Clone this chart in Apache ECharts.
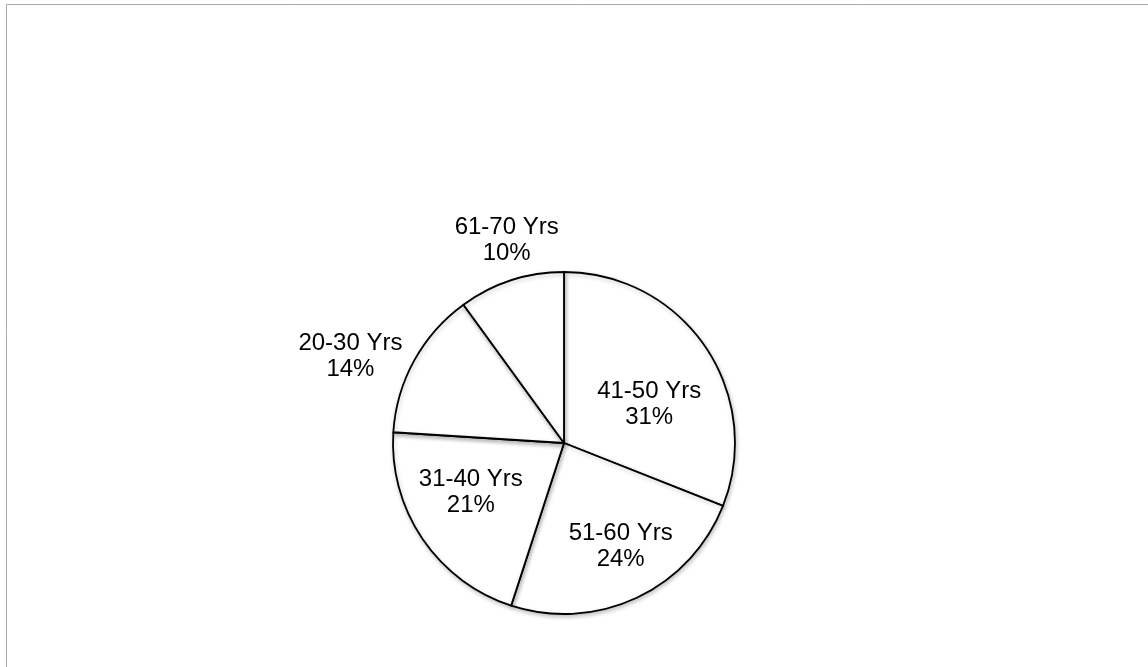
<!DOCTYPE html>
<html>
<head>
<meta charset="utf-8">
<style>
  html, body { margin: 0; padding: 0; background: #ffffff; }
  #chart { width: 1148px; height: 667px; }
</style>
<script src="https://cdn.jsdelivr.net/npm/echarts@6/dist/echarts.min.js"></script>
</head>
<body>
<div id="chart"></div>
<script>
// ---- data ----
const categories = ['41-50 Yrs', '51-60 Yrs', '31-40 Yrs', '20-30 Yrs', '61-70 Yrs'];
const shares = [31, 24, 21, 14, 10];

// ---- presentation ----
// label nudges (px) from the default "inside" label spot, per slice order
const labelNudge = [[12, 11], [19, 23], [-20, 0], [-136, -44], [-30, -118]];

const chart = echarts.init(document.getElementById('chart'), null, { renderer: 'canvas' });

const data = categories.map((name, i) => ({ name: name, value: shares[i] }));

chart.setOption({
  backgroundColor: '#ffffff',
  animation: false,
  graphic: [{
    type: 'polyline',
    silent: true,
    shape: { points: [[6.5, 667], [6.5, 4.5], [1148, 4.5]] },
    style: { stroke: '#a9a9a9', lineWidth: 1, fill: null }
  }],
  series: [{
    type: 'pie',
    center: [564, 443],
    radius: [0, 171],
    startAngle: 90,
    clockwise: true,
    avoidLabelOverlap: false,
    itemStyle: {
      color: '#ffffff',
      borderColor: '#000000',
      borderWidth: 1.8,
      shadowColor: 'rgba(0,0,0,0.22)',
      shadowBlur: 4,
      shadowOffsetX: 1,
      shadowOffsetY: 2
    },
    label: {
      show: true,
      position: 'inside',
      formatter: p => p.name + '\n' + p.value + '%',
      fontFamily: '"Liberation Sans", Arial, sans-serif',
      fontSize: 24,
      lineHeight: 26,
      color: '#000000',
      align: 'center'
    },
    labelLine: { show: false },
    emphasis: { disabled: true },
    labelLayout: function (params) {
      const n = labelNudge[params.dataIndex];
      return { dx: n[0], dy: n[1] };
    },
    data: data
  }]
});
</script>
</body>
</html>
